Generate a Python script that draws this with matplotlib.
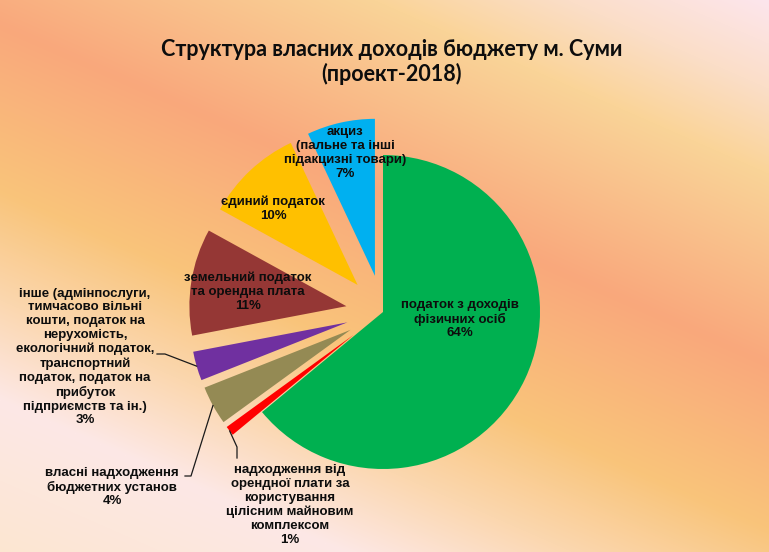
import numpy as np
import matplotlib
matplotlib.use("Agg")
import matplotlib.pyplot as plt

# дані діаграми
labels = [
    "податок з доходів\nфізичних осіб\n64%",
    "надходження від\nорендної плати за\nкористування\nцілісним майновим\nкомплексом\n1%",
    "власні надходження\nбюджетних установ\n4%",
    "інше (адмінпослуги,\nтимчасово вільні\nкошти, податок на\nнерухомість,\nекологічний податок,\nтранспортний\nподаток, податок на\nприбуток\nпідприємств та ін.)\n3%",
    "земельний податок\nта орендна плата\n11%",
    "єдиний податок\n10%",
    "акциз\n(пальне та інші\nпідакцизні товари)\n7%",
]
values = [64, 1, 4, 3, 11, 10, 7]
colors = ["#00B050", "#FF0000", "#948A54", "#7030A0", "#953735", "#FFC000", "#00B0F0"]
explode_frac = [0, 0.236, 0.236, 0.236, 0.236, 0.236, 0.236]
title = "Структура власних доходів бюджету м. Суми\n(проект-2018)"

W, H = 769, 552
fig = plt.figure(figsize=(W / 100, H / 100), dpi=100)
ax = fig.add_axes([0, 0, 1, 1])

# фон - діагональний градієнт
yy, xx = np.mgrid[0:H, 0:W]
s = yy - 0.44 * xx
stops = [-340, -250, -165, 24, 190, 300, 400, 560]
rgb = np.array([
    [253, 230, 238],
    [251, 222, 200],
    [250, 212, 152],
    [249, 168, 124],
    [249, 196, 122],
    [251, 215, 175],
    [253, 232, 230],
    [252, 230, 208],
]) / 255.0
bg = np.dstack([np.interp(s, stops, rgb[:, k]) for k in range(3)])
ax.imshow(bg, extent=(0, W, 0, H), origin="upper", aspect="auto", zorder=0)

cx, cy, R = 383, H - 312, 157
# у matplotlib explode задається в одиницях даних
wedges, _ = ax.pie(values, colors=colors, explode=[e * R for e in explode_frac],
                   startangle=90, counterclock=False, radius=R, center=(cx, cy),
                   wedgeprops=dict(linewidth=0))
for w in wedges:
    w.set_zorder(2)

ax.set_xlim(0, W)
ax.set_ylim(0, H)
ax.axis("off")

lab_font = dict(family=["Liberation Sans", "DejaVu Sans"], fontweight="bold",
                fontsize=9.5, color="#0D0D0D", ha="center", va="center",
                linespacing=1.2, zorder=5)

# позиції підписів (в пікселях зображення)
label_pos = [(460, 319), (290, 505), (112, 487), (85, 357), (248, 292), (273, 209), (345, 153)]
for txt, (x, y) in zip(labels, label_pos):
    ax.text(x, H - y, txt, **lab_font)

# виносні лінії для малих секторів
elbows = {
    3: [(165, 354), (157, 354)],
    2: [(191, 476), (185, 476)],
    1: [(237, 447), (237, 458)],
}
for i, pts in elbows.items():
    w = wedges[i]
    mid = np.deg2rad((w.theta1 + w.theta2) / 2)
    ox, oy = w.center
    x0 = ox + w.r * np.cos(mid)
    y0 = oy + w.r * np.sin(mid)
    xs = [x0] + [p[0] for p in pts]
    ys = [y0] + [H - p[1] for p in pts]
    ax.plot(xs, ys, color="#1A1A1A", lw=0.9, zorder=4)

ax.text(392, H - 62, title, family=["Lato", "DejaVu Sans"], fontweight="bold",
        fontsize=15.5, color="#0D0D0D", ha="center", va="center",
        linespacing=1.2, zorder=5)

fig.savefig("out.png", dpi=100)
